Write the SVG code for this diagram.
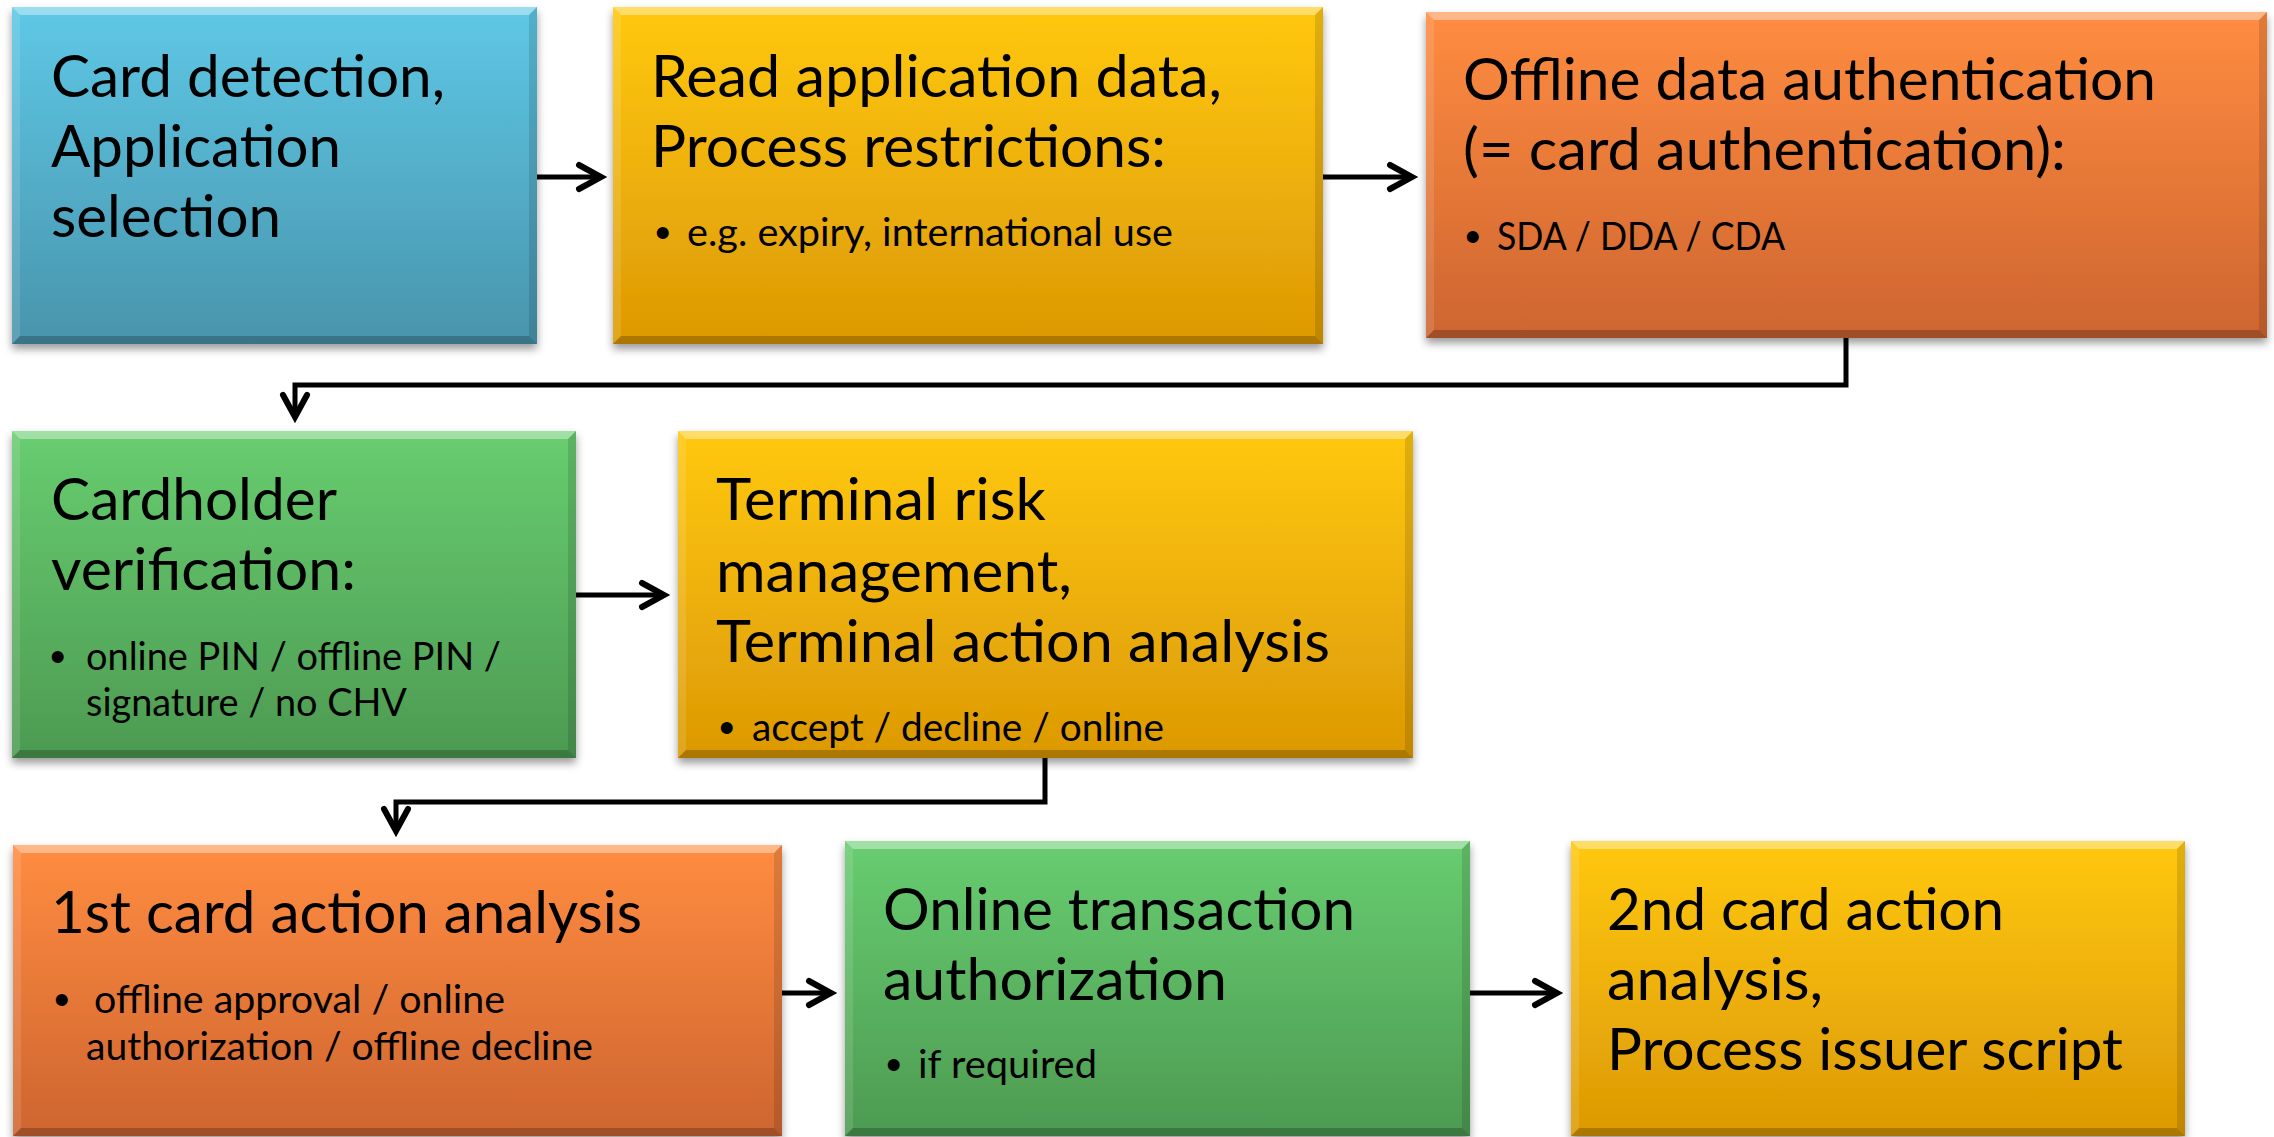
<svg xmlns="http://www.w3.org/2000/svg" width="2274" height="1137" viewBox="0 0 2274 1137">
  <defs>
    <linearGradient id="gBlue" x1="0" y1="0" x2="0" y2="1">
      <stop offset="0" stop-color="#5EC8E6"/>
      <stop offset="1" stop-color="#4994AC"/>
    </linearGradient>
    <linearGradient id="gYellow" x1="0" y1="0" x2="0" y2="1">
      <stop offset="0" stop-color="#FFC80C"/>
      <stop offset="1" stop-color="#DC9905"/>
    </linearGradient>
    <linearGradient id="gOrange" x1="0" y1="0" x2="0" y2="1">
      <stop offset="0" stop-color="#FF8C40"/>
      <stop offset="1" stop-color="#CE6530"/>
    </linearGradient>
    <linearGradient id="gGreen" x1="0" y1="0" x2="0" y2="1">
      <stop offset="0" stop-color="#68CD70"/>
      <stop offset="1" stop-color="#4D9A52"/>
    </linearGradient>
    <filter id="shadow" x="-5%" y="-5%" width="110%" height="115%">
      <feDropShadow dx="0" dy="5" stdDeviation="4" flood-color="#000" flood-opacity="0.4"/>
    </filter>
    <marker id="arrow" markerUnits="userSpaceOnUse" markerWidth="40" markerHeight="40" viewBox="-30 -20 40 40" refX="0" refY="0" orient="auto" overflow="visible">
      <path d="M-22,-12 L0,0 L-22,12" fill="none" stroke="#000" stroke-width="6" stroke-linecap="round" stroke-linejoin="miter"/>
    </marker>
  </defs>
  <style>
    .box { filter: url(#shadow); }
    .bt { fill: #FFFFFF; fill-opacity: 0.38; }
    .bl { fill: #FFFFFF; fill-opacity: 0.12; }
    .br { fill: #000000; fill-opacity: 0.12; }
    .bb { fill: #000000; fill-opacity: 0.22; }
    .big { font-family: Lato, "Liberation Sans", sans-serif; font-size: 58px; fill: #000; }
    .small { font-family: Lato, "Liberation Sans", sans-serif; font-size: 38px; fill: #000; }
    .bul { font-family: "Liberation Sans", sans-serif; font-size: 44px; fill: #000; }
    .conn { fill: none; stroke: #000; stroke-width: 5; stroke-linejoin: miter; }
  </style>

  <rect width="2274" height="1137" fill="#FFFFFF"/>

  <!-- Step 1: card detection -->
  <g id="card-detection">
    <rect class="box" x="12" y="7" width="525" height="337" fill="url(#gBlue)"/>
    <polygon class="bt" points="12,7 537,7 529,15 20,15"/>
    <polygon class="bl" points="12,7 20,15 20,336 12,344"/>
    <polygon class="br" points="537,7 537,344 529,336 529,15"/>
    <polygon class="bb" points="12,344 20,336 529,336 537,344"/>
    <text class="big" x="51" y="97" textLength="394" lengthAdjust="spacingAndGlyphs">Card detection,</text>
    <text class="big" x="51" y="167" textLength="290" lengthAdjust="spacingAndGlyphs">Application</text>
    <text class="big" x="51" y="237" textLength="230" lengthAdjust="spacingAndGlyphs">selection</text>
  </g>

  <!-- Step 2: read application data -->
  <g id="read-application-data">
    <rect class="box" x="613" y="7" width="710" height="337" fill="url(#gYellow)"/>
    <polygon class="bt" points="613,7 1323,7 1315,15 621,15"/>
    <polygon class="bl" points="613,7 621,15 621,336 613,344"/>
    <polygon class="br" points="1323,7 1323,344 1315,336 1315,15"/>
    <polygon class="bb" points="613,344 621,336 1315,336 1323,344"/>
    <text class="big" x="651" y="97" textLength="571" lengthAdjust="spacingAndGlyphs">Read application data,</text>
    <text class="big" x="651" y="167" textLength="515" lengthAdjust="spacingAndGlyphs">Process restrictions:</text>
    <text class="bul" x="655" y="248">•</text>
    <text class="small" x="687" y="246" textLength="486" lengthAdjust="spacingAndGlyphs">e.g. expiry, international use</text>
  </g>

  <!-- Step 3: offline data authentication -->
  <g id="offline-data-authentication">
    <rect class="box" x="1426" y="12" width="841" height="326" fill="url(#gOrange)"/>
    <polygon class="bt" points="1426,12 2267,12 2259,20 1434,20"/>
    <polygon class="bl" points="1426,12 1434,20 1434,330 1426,338"/>
    <polygon class="br" points="2267,12 2267,338 2259,330 2259,20"/>
    <polygon class="bb" points="1426,338 1434,330 2259,330 2267,338"/>
    <text class="big" x="1463" y="100" textLength="693" lengthAdjust="spacingAndGlyphs">Offline data authentication</text>
    <text class="big" x="1463" y="170" textLength="603" lengthAdjust="spacingAndGlyphs">(= card authentication):</text>
    <text class="bul" x="1465" y="252">•</text>
    <text class="small" x="1497" y="250" textLength="288" lengthAdjust="spacingAndGlyphs">SDA / DDA / CDA</text>
  </g>

  <!-- Step 4: cardholder verification -->
  <g id="cardholder-verification">
    <rect class="box" x="12" y="431" width="564" height="327" fill="url(#gGreen)"/>
    <polygon class="bt" points="12,431 576,431 568,439 20,439"/>
    <polygon class="bl" points="12,431 20,439 20,750 12,758"/>
    <polygon class="br" points="576,431 576,758 568,750 568,439"/>
    <polygon class="bb" points="12,758 20,750 568,750 576,758"/>
    <text class="big" x="51" y="520" textLength="286" lengthAdjust="spacingAndGlyphs">Cardholder</text>
    <text class="big" x="51" y="590" textLength="305" lengthAdjust="spacingAndGlyphs">verification:</text>
    <text class="bul" x="50" y="672">•</text>
    <text class="small" x="86" y="670" textLength="415" lengthAdjust="spacingAndGlyphs">online PIN / offline PIN /</text>
    <text class="small" x="86" y="716" textLength="321" lengthAdjust="spacingAndGlyphs">signature / no CHV</text>
  </g>

  <!-- Step 5: terminal risk management -->
  <g id="terminal-risk-management">
    <rect class="box" x="678" y="431" width="735" height="327" fill="url(#gYellow)"/>
    <polygon class="bt" points="678,431 1413,431 1405,439 686,439"/>
    <polygon class="bl" points="678,431 686,439 686,750 678,758"/>
    <polygon class="br" points="1413,431 1413,758 1405,750 1405,439"/>
    <polygon class="bb" points="678,758 686,750 1405,750 1413,758"/>
    <text class="big" x="716" y="520" textLength="330" lengthAdjust="spacingAndGlyphs">Terminal risk</text>
    <text class="big" x="716" y="592" textLength="356" lengthAdjust="spacingAndGlyphs">management,</text>
    <text class="big" x="716" y="662" textLength="614" lengthAdjust="spacingAndGlyphs">Terminal action analysis</text>
    <text class="bul" x="719" y="743">•</text>
    <text class="small" x="752" y="741" textLength="412" lengthAdjust="spacingAndGlyphs">accept / decline / online</text>
  </g>

  <!-- Step 6: first card action analysis -->
  <g id="first-card-action-analysis">
    <rect class="box" x="13" y="845" width="769" height="291" fill="url(#gOrange)"/>
    <polygon class="bt" points="13,845 782,845 774,853 21,853"/>
    <polygon class="bl" points="13,845 21,853 21,1128 13,1136"/>
    <polygon class="br" points="782,845 782,1136 774,1128 774,853"/>
    <polygon class="bb" points="13,1136 21,1128 774,1128 782,1136"/>
    <text class="big" x="51" y="933" textLength="591" lengthAdjust="spacingAndGlyphs">1st card action analysis</text>
    <text class="bul" x="54" y="1015">•</text>
    <text class="small" x="94" y="1013" textLength="411" lengthAdjust="spacingAndGlyphs">offline approval / online</text>
    <text class="small" x="86" y="1060" textLength="507" lengthAdjust="spacingAndGlyphs">authorization / offline decline</text>
  </g>

  <!-- Step 7: online transaction authorization -->
  <g id="online-authorization">
    <rect class="box" x="845" y="841" width="625" height="295" fill="url(#gGreen)"/>
    <polygon class="bt" points="845,841 1470,841 1462,849 853,849"/>
    <polygon class="bl" points="845,841 853,849 853,1128 845,1136"/>
    <polygon class="br" points="1470,841 1470,1136 1462,1128 1462,849"/>
    <polygon class="bb" points="845,1136 853,1128 1462,1128 1470,1136"/>
    <text class="big" x="883" y="930" textLength="472" lengthAdjust="spacingAndGlyphs">Online transaction</text>
    <text class="big" x="883" y="1000" textLength="344" lengthAdjust="spacingAndGlyphs">authorization</text>
    <text class="bul" x="886" y="1080">•</text>
    <text class="small" x="918" y="1078" textLength="179" lengthAdjust="spacingAndGlyphs">if required</text>
  </g>

  <!-- Step 8: second card action analysis -->
  <g id="second-card-action-analysis">
    <rect class="box" x="1571" y="841" width="614" height="295" fill="url(#gYellow)"/>
    <polygon class="bt" points="1571,841 2185,841 2177,849 1579,849"/>
    <polygon class="bl" points="1571,841 1579,849 1579,1128 1571,1136"/>
    <polygon class="br" points="2185,841 2185,1136 2177,1128 2177,849"/>
    <polygon class="bb" points="1571,1136 1579,1128 2177,1128 2185,1136"/>
    <text class="big" x="1607" y="930" textLength="397" lengthAdjust="spacingAndGlyphs">2nd card action</text>
    <text class="big" x="1607" y="1000" textLength="216" lengthAdjust="spacingAndGlyphs">analysis,</text>
    <text class="big" x="1607" y="1070" textLength="516" lengthAdjust="spacingAndGlyphs">Process issuer script</text>
  </g>

  <!-- Flow connectors -->
  <g id="connectors">
    <path class="conn" d="M537,177 H601" marker-end="url(#arrow)"/>
    <path class="conn" d="M1323,177 H1412" marker-end="url(#arrow)"/>
    <path class="conn" d="M1846,338 V385 H295 V417" marker-end="url(#arrow)"/>
    <path class="conn" d="M576,595 H664" marker-end="url(#arrow)"/>
    <path class="conn" d="M1045,758 V802 H396 V831" marker-end="url(#arrow)"/>
    <path class="conn" d="M782,993 H831" marker-end="url(#arrow)"/>
    <path class="conn" d="M1470,993 H1557" marker-end="url(#arrow)"/>
  </g>
</svg>
